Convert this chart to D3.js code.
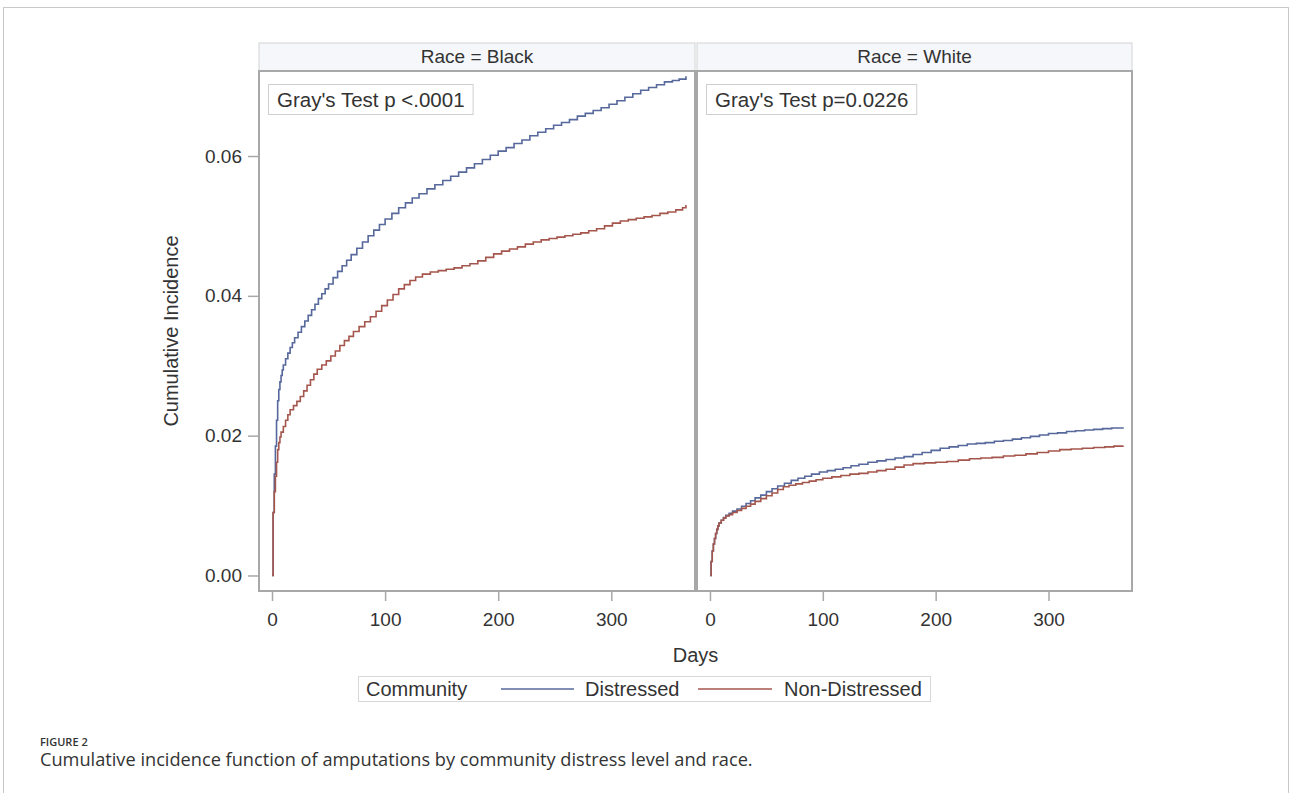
<!DOCTYPE html>
<html>
<head>
<meta charset="utf-8">
<script src="https://cdn.jsdelivr.net/npm/d3@7"></script>
<style>
  body { margin: 0; background: #fff; }
  svg text { font-family: "Liberation Sans", Arial, sans-serif; fill: #333; }
  .caption text { font-family: "Open Sans", sans-serif; }
</style>
</head>
<body>
<div id="chart"></div>
<script>
// panels and labels
var panels = ["Black", "White"];
var grayTests = ["Gray's Test p <.0001", "Gray's Test p=0.0226"];
var groups = ["Distressed", "Non-Distressed"];
var colors = ["#56689c", "#a5564c"];
var xTicks = [0, 100, 200, 300];
var yTicks = [0, 0.02, 0.04, 0.06];

// cumulative incidence: [day, value]
var blackDistressed = [[0,0],[1,0.009],[2,0.0145],[3,0.0185],[4,0.0222],[5,0.025],[6,0.0266],[7,0.0277],
  [8,0.0286],[9,0.0294],[10,0.0301],[12,0.031],[14,0.0318],[16,0.0326],[18,0.0333],[20,0.034],
  [23,0.0348],[26,0.0356],[29,0.0364],[32,0.0372],[35,0.038],[38,0.0388],[41,0.0396],[44,0.0403],
  [47,0.041],[50,0.0417],[54,0.0426],[58,0.0435],[62,0.0443],[66,0.0451],[70,0.0459],[75,0.0468],
  [80,0.0477],[85,0.0486],[90,0.0494],[95,0.0502],[100,0.051],[106,0.0518],[112,0.0526],[118,0.0533],
  [124,0.054],[130,0.0546],[137,0.0553],[144,0.0559],[151,0.0565],[158,0.0571],[165,0.0577],
  [172,0.0583],[179,0.0589],[186,0.0595],[193,0.0601],[200,0.0607],[207,0.0612],[214,0.0618],
  [221,0.0623],[228,0.0629],[235,0.0634],[242,0.0639],[249,0.0644],[256,0.0648],[263,0.0652],
  [270,0.0657],[277,0.0661],[284,0.0665],[291,0.0669],[298,0.0674],[305,0.0679],[312,0.0684],
  [319,0.0689],[326,0.0694],[333,0.0698],[340,0.0702],[347,0.0706],[354,0.0708],[360,0.071],[366,0.0714]];
var blackNonDistressed = [[0,0],[1,0.009],[2,0.012],[3,0.0142],[4,0.0162],[5,0.018],[6,0.019],[7,0.0198],
  [8,0.0205],[10,0.0213],[12,0.0222],[14,0.023],[16,0.0237],[19,0.0243],[22,0.0249],[25,0.0256],
  [28,0.0264],[31,0.0272],[34,0.028],[37,0.0288],[40,0.0295],[44,0.0301],[48,0.0307],[52,0.0314],
  [56,0.0321],[60,0.0329],[64,0.0336],[68,0.0342],[72,0.0349],[77,0.0356],[82,0.0363],[87,0.037],
  [92,0.0378],[97,0.0386],[102,0.0394],[107,0.0402],[112,0.041],[117,0.0416],[122,0.0422],
  [127,0.0427],[133,0.0431],[140,0.0434],[147,0.0436],[154,0.0438],[161,0.044],[168,0.0443],
  [175,0.0446],[182,0.045],[189,0.0455],[196,0.046],[203,0.0464],[210,0.0467],[217,0.047],
  [224,0.0474],[231,0.0477],[238,0.048],[245,0.0482],[252,0.0484],[259,0.0486],[266,0.0488],
  [273,0.049],[280,0.0493],[287,0.0496],[294,0.05],[301,0.0504],[308,0.0507],[315,0.0509],
  [322,0.0511],[329,0.0513],[336,0.0515],[343,0.0518],[350,0.052],[357,0.0523],[363,0.0526],[366,0.053]];
var whiteDistressed = [[0,0],[1,0.002],[2,0.0035],[3,0.0045],[4,0.0053],[5,0.006],[6,0.0066],[7,0.0071],
  [8,0.0075],[10,0.0079],[12,0.0083],[14,0.0086],[17,0.0089],[20,0.0092],[24,0.0095],[28,0.0099],
  [32,0.0103],[36,0.0107],[40,0.0111],[45,0.0115],[50,0.012],[55,0.0124],[60,0.0128],[66,0.0132],
  [72,0.0136],[78,0.0139],[84,0.0142],[90,0.0145],[97,0.0148],[104,0.015],[111,0.0152],[118,0.0154],
  [125,0.0157],[132,0.0159],[140,0.0162],[148,0.0164],[156,0.0166],[164,0.0168],[172,0.017],
  [180,0.0173],[188,0.0176],[196,0.0179],[204,0.0182],[212,0.0184],[220,0.0186],[228,0.0188],
  [236,0.0189],[244,0.019],[252,0.0192],[260,0.0193],[268,0.0195],[276,0.0197],[284,0.0199],
  [292,0.0201],[300,0.0203],[308,0.0204],[316,0.0206],[324,0.0207],[332,0.0208],[340,0.0209],
  [348,0.021],[356,0.0211],[366,0.0212]];
var whiteNonDistressed = [[0,0],[1,0.002],[2,0.0035],[3,0.0045],[4,0.0053],[5,0.006],[6,0.0066],[7,0.0071],
  [8,0.0075],[10,0.0079],[12,0.0082],[14,0.0085],[17,0.0087],[20,0.009],[24,0.0093],[28,0.0096],
  [32,0.0099],[36,0.0102],[40,0.0106],[45,0.011],[50,0.0114],[55,0.0118],[60,0.0123],[65,0.0127],
  [70,0.0129],[76,0.0131],[82,0.0133],[88,0.0135],[94,0.0137],[100,0.0139],[108,0.0141],[116,0.0143],
  [124,0.0145],[132,0.0146],[140,0.0148],[148,0.015],[156,0.0152],[164,0.0155],[172,0.0158],
  [180,0.016],[190,0.0161],[200,0.0162],[210,0.0163],[220,0.0165],[230,0.0167],[240,0.0168],
  [250,0.0169],[260,0.0171],[270,0.0172],[280,0.0174],[290,0.0176],[300,0.0178],[310,0.018],
  [320,0.0181],[330,0.0182],[340,0.0183],[350,0.0184],[358,0.0185],[366,0.0186]];

var curves = [[blackDistressed, blackNonDistressed], [whiteDistressed, whiteNonDistressed]];

var W = 1292, H = 793;
var svg = d3.select("#chart").append("svg")
    .attr("width", W)
    .attr("height", H);

// outer card
svg.append("rect")
    .attr("x", 3.5).attr("y", 7.5)
    .attr("width", W - 7).attr("height", H + 20)
    .attr("fill", "none")
    .attr("stroke", "#c9c9c9");

var plotTop = 71, plotBottom = 591, headTop = 43;
var panelX = [[259, 695], [697, 1132]];

var y = d3.scaleLinear()
    .domain([-0.00222, 0.07216])
    .range([plotBottom, plotTop]);

var line = d3.line().curve(d3.curveStepAfter);

panels.forEach(function(p, i) {
    var x = d3.scaleLinear()
        .domain([-11.5, 374])
        .range(panelX[i]);
    var g = svg.append("g");
    var x0 = panelX[i][0], x1 = panelX[i][1];

    // header strip
    g.append("rect")
        .attr("x", x0).attr("y", headTop)
        .attr("width", x1 - x0).attr("height", plotTop - headTop)
        .attr("fill", "#f5f7fb")
        .attr("stroke", "#d4d4d4");
    g.append("text")
        .attr("x", (x0 + x1) / 2).attr("y", plotTop - 8)
        .attr("text-anchor", "middle")
        .attr("font-size", "19px")
        .text("Race = " + p);

    line.x(function(d) { return x(d[0]); }).y(function(d) { return y(d[1]); });

    curves[i].forEach(function(c, k) {
        g.append("path")
            .datum(c)
            .attr("fill", "none")
            .attr("stroke", colors[k])
            .attr("stroke-width", 1.6)
            .attr("d", line);
    });

    // frame
    g.append("rect")
        .attr("x", x0).attr("y", plotTop)
        .attr("width", x1 - x0).attr("height", plotBottom - plotTop)
        .attr("fill", "none")
        .attr("stroke", "#a8a8a8")
        .attr("stroke-width", 2);

    // gray's test box
    var tb = g.append("g").attr("transform", "translate(" + (x0 + 9) + "," + 84 + ")");
    var txt = tb.append("text")
        .attr("x", 9).attr("y", 23)
        .attr("font-size", "20.5px")
        .attr("fill", "#111")
        .text(grayTests[i]);
    var tw = txt.node().getComputedTextLength();
    tb.insert("rect", "text")
        .attr("x", 0.5).attr("y", 0.5)
        .attr("width", tw + 17).attr("height", 30)
        .attr("fill", "#fff")
        .attr("stroke", "#cfcfcf");

    // x axis
    var xa = g.append("g")
        .attr("class", "axis")
        .attr("transform", "translate(0," + plotBottom + ")")
        .call(d3.axisBottom(x).tickValues(xTicks).tickSize(10).tickPadding(12));
    xa.select(".domain").remove();
    xa.selectAll("line").attr("stroke", "#a8a8a8").attr("stroke-width", 1.5);
    xa.selectAll("text").attr("font-size", "19px").attr("fill", "#333")
        .attr("font-family", "Liberation Sans, Arial, sans-serif");
});

// y axis
var ya = svg.append("g")
    .attr("transform", "translate(" + panelX[0][0] + ",0)")
    .call(d3.axisLeft(y).tickValues(yTicks).tickFormat(d3.format(".2f")).tickSize(11).tickPadding(6));
ya.select(".domain").remove();
ya.selectAll("line").attr("stroke", "#a8a8a8").attr("stroke-width", 1.5);
ya.selectAll("text").attr("font-size", "19px").attr("fill", "#333")
    .attr("font-family", "Liberation Sans, Arial, sans-serif");

// axis titles
svg.append("text")
    .attr("transform", "translate(178," + ((plotTop + plotBottom) / 2) + ") rotate(-90)")
    .attr("text-anchor", "middle")
    .attr("font-size", "20px")
    .text("Cumulative Incidence");

svg.append("text")
    .attr("x", (panelX[0][0] + panelX[1][1]) / 2).attr("y", 662)
    .attr("text-anchor", "middle")
    .attr("font-size", "20px")
    .text("Days");

// legend
var leg = svg.append("g");
leg.append("rect")
    .attr("x", 358.5).attr("y", 676.5)
    .attr("width", 572).attr("height", 25)
    .attr("fill", "#fff")
    .attr("stroke", "#d8d8d8");
leg.append("text").attr("x", 366).attr("y", 696).attr("font-size", "20px").text("Community");
var legItems = [{x1: 501, x2: 574, tx: 585}, {x1: 698, x2: 772, tx: 784}];
groups.forEach(function(n, k) {
    leg.append("line")
        .attr("x1", legItems[k].x1).attr("x2", legItems[k].x2)
        .attr("y1", 689).attr("y2", 689)
        .attr("stroke", colors[k]).attr("stroke-width", 1.6);
    leg.append("text").attr("x", legItems[k].tx).attr("y", 696).attr("font-size", "20px").text(n);
});

// caption
var cap = svg.append("g").attr("class", "caption");
cap.append("text")
    .attr("x", 40).attr("y", 746)
    .attr("font-size", "11px")
    .attr("font-weight", 600)
    .attr("fill", "#555")
    .text("FIGURE 2");
cap.append("text")
    .attr("x", 40).attr("y", 766)
    .attr("font-size", "18.2px")
    .attr("fill", "#666")
    .text("Cumulative incidence function of amputations by community distress level and race.");
</script>
</body>
</html>
